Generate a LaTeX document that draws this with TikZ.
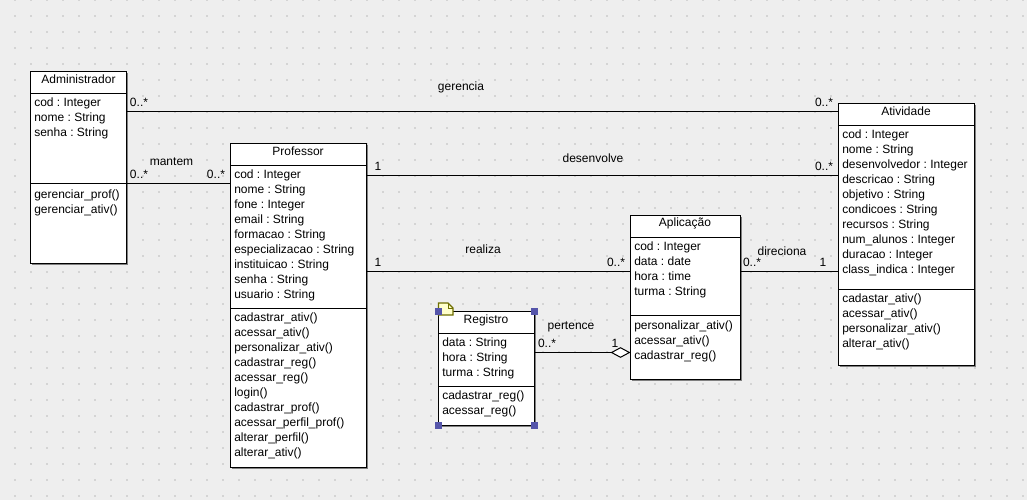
\documentclass[tikz,border=0pt]{standalone}
\usepackage{fontspec}
\setmainfont{Liberation Sans}
\usetikzlibrary{arrows.meta,shadows}
\definecolor{canvasgray}{RGB}{238,238,238}
\definecolor{griddot}{RGB}{212,212,212}
\definecolor{handleblue}{RGB}{85,85,170}
\definecolor{noteyellow}{RGB}{255,255,204}
\definecolor{noteolive}{RGB}{110,110,0}
\frenchspacing
\tikzset{
  classbox/.style={draw,fill=white,line width=0.75pt,inner sep=0pt,outer sep=0pt,anchor=north west,
    drop shadow={shadow xshift=1pt,shadow yshift=-1pt,fill=black!50,opacity=1}},
  classname/.style={inner sep=0pt,font=\fontsize{9}{11.25}\selectfont},
  members/.style={inner sep=0pt,anchor=north west,align=left,font=\fontsize{9}{11.25}\selectfont},
  assoclabel/.style={inner sep=0pt,font=\fontsize{9}{11.25}\selectfont},
  assoc/.style={line width=0.75pt},
  handle/.style={fill=handleblue,draw=none,minimum size=5pt,inner sep=0pt},
}
\begin{document}
\begin{tikzpicture}[x=0.75pt,y=0.75pt,yscale=-1,xscale=1]
\useasboundingbox (0,0) rectangle (1027,500);
% canvas
\fill [canvasgray] (0,0) rectangle (1027,500);
\foreach \dotx in {15,31,...,1023}
  \foreach \doty in {0,16,...,496}
    \fill [griddot] (\dotx-1,\doty-1) rectangle (\dotx+1,\doty+1);

% Class boxes
\node (administrador) [classbox,minimum width=72pt,minimum height=144pt] at (30.5,71.5) {};
\node (professor) [classbox,minimum width=102pt,minimum height=243pt] at (230.5,143.5) {};
\node (registro) [classbox,minimum width=72pt,minimum height=85.5pt] at (438.5,311.5) {};
\node (aplicacao) [classbox,minimum width=82.5pt,minimum height=123pt] at (630.5,215.5) {};
\node (atividade) [classbox,minimum width=102pt,minimum height=196.5pt] at (838.5,103.5) {};

% Compartment lines
\draw (administrador.west |- 0,93.5) -- (administrador.east |- 0,93.5);
\draw (administrador.west |- 0,183.5) -- (administrador.east |- 0,183.5);
\draw (professor.west |- 0,165.5) -- (professor.east |- 0,165.5);
\draw (professor.west |- 0,308.5) -- (professor.east |- 0,308.5);
\draw (registro.west |- 0,333.5) -- (registro.east |- 0,333.5);
\draw (registro.west |- 0,386.5) -- (registro.east |- 0,386.5);
\draw (aplicacao.west |- 0,237.5) -- (aplicacao.east |- 0,237.5);
\draw (aplicacao.west |- 0,315.5) -- (aplicacao.east |- 0,315.5);
\draw (atividade.west |- 0,125.5) -- (atividade.east |- 0,125.5);
\draw (atividade.west |- 0,289.5) -- (atividade.east |- 0,289.5);

% Class names
\node (administradorname) [classname] at (78.5,79.5) {Administrador};
\node (professorname) [classname] at (298,151.5) {Professor};
\node (registroname) [classname] at (486,320) {Registro};
\node (aplicacaoname) [classname] at (685,223.5) {Aplicação};
\node (atividadename) [classname] at (906,111.5) {Atividade};

% Attributes
\node (administradorattr) [members] at (34,98) {cod : Integer\\nome : String\\senha : String};
\node (professorattr) [members] at (234,170) {cod : Integer\\nome : String\\fone : Integer\\email : String\\formacao : String\\especializacao : String\\instituicao : String\\senha : String\\usuario : String};
\node (registroattr) [members] at (442,338) {data : String\\hora : String\\turma : String};
\node (aplicacaoattr) [members] at (634,242) {cod : Integer\\data : date\\hora : time\\turma : String};
\node (atividadeattr) [members] at (842,130) {cod : Integer\\nome : String\\desenvolvedor : Integer\\descricao : String\\objetivo : String\\condicoes : String\\recursos : String\\num\_alunos : Integer\\duracao : Integer\\class\_indica : Integer};

% Operations
\node (administradorops) [members] at (34,190) {gerenciar\_prof()\\gerenciar\_ativ()};
\node (professorops) [members] at (234,313) {cadastrar\_ativ()\\acessar\_ativ()\\personalizar\_ativ()\\cadastrar\_reg()\\acessar\_reg()\\login()\\cadastrar\_prof()\\acessar\_perfil\_prof()\\alterar\_perfil()\\alterar\_ativ()};
\node (registroops) [members] at (442,391) {cadastrar\_reg()\\acessar\_reg()};
\node (aplicacaoops) [members] at (634,321) {personalizar\_ativ()\\acessar\_ativ()\\cadastrar\_reg()};
\node (atividadeops) [members] at (842,294) {cadastar\_ativ()\\acessar\_ativ()\\personalizar\_ativ()\\alterar\_ativ()};

% Associations
\draw [assoc] (administrador.east |- 0,111.5) -- (atividade.west |- 0,111.5);
\draw [assoc] (administrador.east |- 0,183.5) -- (professor.west |- 0,183.5);
\draw [assoc] (professor.east |- 0,175.5) -- (atividade.west |- 0,175.5);
\draw [assoc] (professor.east |- 0,271.5) -- (aplicacao.west |- 0,271.5);
\draw [assoc] (aplicacao.east |- 0,271.5) -- (atividade.west |- 0,271.5);
\draw [assoc,-{Diamond[open,fill=white,length=15pt,width=8pt]}] (registro.east |- 0,352.5) -- (aplicacao.west |- 0,352.5);

% Association labels
\node (gerencia) [assoclabel] at (461,87) {gerencia};
\node (mantem) [assoclabel] at (171.5,161.5) {mantem};
\node (desenvolve) [assoclabel] at (593,158.5) {desenvolve};
\node (realiza) [assoclabel] at (483,249.5) {realiza};
\node (direciona) [assoclabel] at (782,251.5) {direciona};
\node (pertence) [assoclabel] at (571,327) {pertence};

% Multiplicities
\node (m1) [assoclabel] at (139,102.5) {0..*};
\node (m2) [assoclabel] at (824,102.5) {0..*};
\node (m3) [assoclabel] at (139,174.5) {0..*};
\node (m4) [assoclabel] at (216,174.5) {0..*};
\node (m5) [assoclabel] at (378,166) {1};
\node (m6) [assoclabel] at (824,166.5) {0..*};
\node (m7) [assoclabel] at (378,262.5) {1};
\node (m8) [assoclabel] at (616,262.5) {0..*};
\node (m9) [assoclabel] at (752,262.5) {0..*};
\node (m10) [assoclabel] at (823,262.5) {1};
\node (m11) [assoclabel] at (547,343.5) {0..*};
\node (m12) [assoclabel] at (615,343.5) {1};

% Selection of Registro
\draw [fill=noteyellow,draw=noteolive,line width=0.9pt] (438.5,303) -- (448,303) -- (453,308) -- (453,315) -- (438.5,315) -- cycle;
\draw [draw=noteolive,line width=0.5pt] (448,303) -- (448,308) -- (453,308);
\node (handlenw) [handle] at (registro.north west) {};
\node (handlene) [handle] at (registro.north east) {};
\node (handlesw) [handle] at (registro.south west) {};
\node (handlese) [handle] at (registro.south east) {};
\end{tikzpicture}
\end{document}
